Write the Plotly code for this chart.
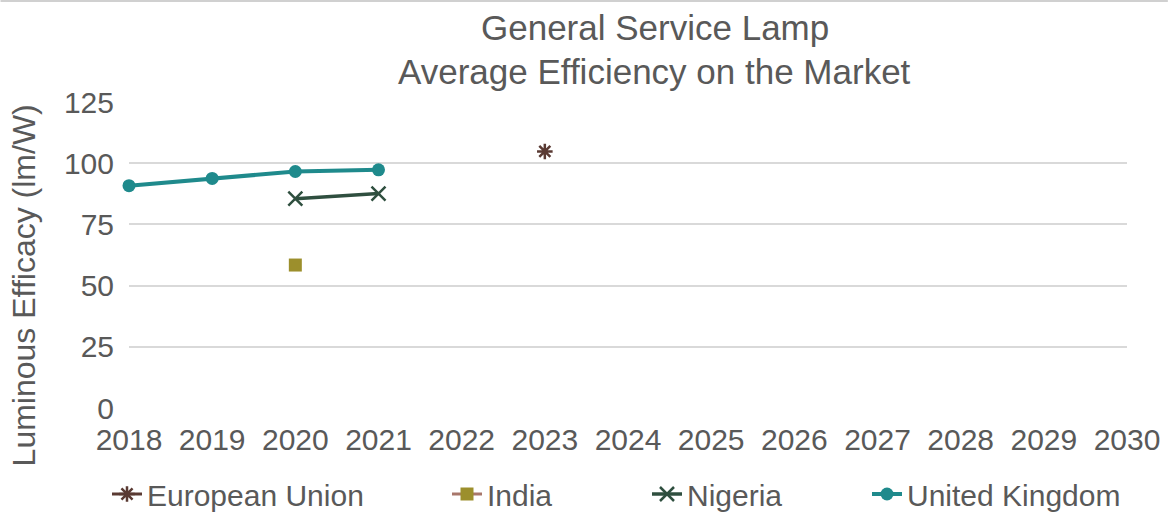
import plotly.graph_objects as go

years_uk = [2018, 2019, 2020, 2021]
uk = [90.8, 93.8, 96.6, 97.3]
years_ng = [2020, 2021]
nigeria = [85.5, 87.6]
years_in = [2020]
india = [58.4]
years_eu = [2023]
eu = [104.8]
x_ticks = list(range(2018, 2031))
y_ticks = [0, 25, 50, 75, 100, 125]
title_lines = ["General Service Lamp", "Average Efficiency on the Market"]
y_title = "Luminous Efficacy (lm/W)"

FONT = "Liberation Sans, Arial, sans-serif"
GRAY = "#595959"
W, H = 1172, 514
LEG_TEXT_X = [148, 488, 688, 908]  # where legend texts start (px)

fig = go.Figure()
fig.add_trace(go.Scatter(x=years_eu, y=eu, name="European Union", mode="lines+markers",
                         line=dict(color="#5A3A33", width=3),
                         marker=dict(symbol="asterisk-open", size=13, color="#5A3A33",
                                     line=dict(color="#5A3A33", width=2.5)),
                         cliponaxis=False, legend="legend"))
fig.add_trace(go.Scatter(x=years_in, y=india, name="India", mode="lines+markers",
                         line=dict(color="#A8776B", width=3),
                         marker=dict(symbol="square", size=13, color="#9C8F2C"),
                         cliponaxis=False, legend="legend2"))
fig.add_trace(go.Scatter(x=years_ng, y=nigeria, name="Nigeria", mode="lines+markers",
                         line=dict(color="#2F4F3F", width=3.5),
                         marker=dict(symbol="x-thin-open", size=14, color="#2F4F3F",
                                     line=dict(color="#2F4F3F", width=2.5)),
                         cliponaxis=False, legend="legend3"))
fig.add_trace(go.Scatter(x=years_uk, y=uk, name="United Kingdom", mode="lines+markers",
                         line=dict(color="#1F8A8C", width=4),
                         marker=dict(symbol="circle", size=13, color="#1F8A8C"),
                         cliponaxis=False, legend="legend4"))

def leg(px):
    return dict(orientation="h", x=(px - 41) / W, xref="container", xanchor="left",
                y=(H - 494) / H, yref="container", yanchor="middle",
                font=dict(size=30, color=GRAY, family=FONT), bgcolor="rgba(0,0,0,0)")

fig.update_layout(
    width=W, height=H,
    margin=dict(l=129, r=41, t=102, b=106),
    paper_bgcolor="white", plot_bgcolor="white",
    font=dict(family=FONT, color=GRAY, size=30),
    showlegend=True,
    legend=leg(LEG_TEXT_X[0]), legend2=leg(LEG_TEXT_X[1]),
    legend3=leg(LEG_TEXT_X[2]), legend4=leg(LEG_TEXT_X[3]),
    xaxis=dict(range=[2018, 2030], tickvals=x_ticks, ticktext=[str(v) for v in x_ticks],
               showgrid=False, zeroline=False, showline=False, ticks="",
               tickfont=dict(size=30, color=GRAY), ticklabelstandoff=11),
    yaxis=dict(range=[0, 125], tickvals=y_ticks, showgrid=True, gridcolor="#D9D9D9",
               gridwidth=1.5, zeroline=False, showline=False, ticks="",
               tickfont=dict(size=30, color=GRAY), ticklabelstandoff=14),
)
fig.add_annotation(text=title_lines[0], xref="paper", yref="paper",
                   x=(657 - 129) / 1002, y=1 + (102 - 28) / 306, xanchor="center", yanchor="middle",
                   showarrow=False, font=dict(size=35, color=GRAY, family=FONT))
fig.add_annotation(text=title_lines[1], xref="paper", yref="paper",
                   x=(657 - 129) / 1002, y=1 + (102 - 72) / 306, xanchor="center", yanchor="middle",
                   showarrow=False, font=dict(size=35, color=GRAY, family=FONT))
fig.add_annotation(text=y_title, xref="paper", yref="paper", textangle=-90,
                   x=(24 - 129) / 1002, y=(408 - 285) / 306, xanchor="center", yanchor="middle",
                   showarrow=False, font=dict(size=32, color=GRAY, family=FONT))
fig.add_shape(type="line", xref="paper", yref="paper", x0=-129 / 1002, x1=1 + 41 / 1002,
              y0=1 + 101 / 306, y1=1 + 101 / 306,
              line=dict(color="#D0D0D0", width=2))

fig.write_html("out.html")
